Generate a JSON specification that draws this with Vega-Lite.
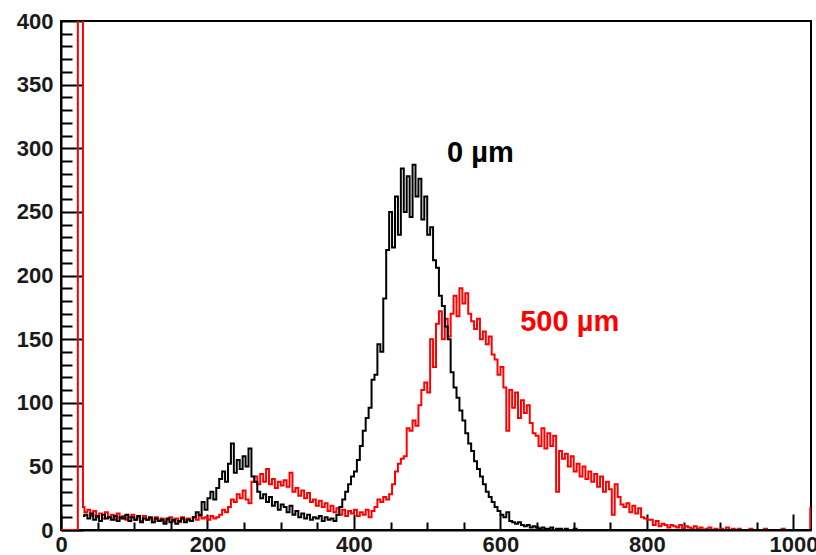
{
  "$schema": "https://vega.github.io/schema/vega-lite/v6.json",
  "width": 750,
  "height": 509,
  "autosize": {"type": "none"},
  "padding": {"left": 61, "top": 21, "right": 5, "bottom": 25},
  "background": "white",
  "config": {
    "view": {"stroke": "black", "strokeWidth": 2},
    "font": "Liberation Sans"
  },
  "datasets": {
    "counts": [
      {"x": 0, "red": 0},
      {"x": 23, "red": 1000},
      {"x": 30, "red": 18, "black": 11},
      {"x": 32, "red": 14, "black": 12}, {"x": 36, "red": 16, "black": 9}, {"x": 40, "red": 11, "black": 13}, {"x": 44, "red": 15, "black": 8},
      {"x": 48, "red": 10, "black": 11}, {"x": 52, "red": 13, "black": 7}, {"x": 56, "red": 9, "black": 12}, {"x": 60, "red": 14, "black": 9},
      {"x": 64, "red": 10, "black": 10}, {"x": 68, "red": 12, "black": 8}, {"x": 72, "red": 8, "black": 11}, {"x": 76, "red": 13, "black": 7},
      {"x": 80, "red": 9, "black": 10}, {"x": 84, "red": 11, "black": 9}, {"x": 88, "red": 8, "black": 12}, {"x": 92, "red": 10, "black": 7},
      {"x": 96, "red": 12, "black": 10}, {"x": 100, "red": 8, "black": 8}, {"x": 104, "red": 10, "black": 11}, {"x": 108, "red": 7, "black": 6},
      {"x": 112, "red": 11, "black": 9}, {"x": 116, "red": 8, "black": 8}, {"x": 120, "red": 9, "black": 10}, {"x": 124, "red": 6, "black": 6},
      {"x": 128, "red": 10, "black": 9}, {"x": 132, "red": 7, "black": 7}, {"x": 136, "red": 9, "black": 8}, {"x": 140, "red": 6, "black": 5},
      {"x": 144, "red": 8, "black": 9}, {"x": 148, "red": 10, "black": 6}, {"x": 152, "red": 7, "black": 8}, {"x": 156, "red": 9, "black": 5},
      {"x": 160, "red": 6, "black": 7}, {"x": 164, "red": 10, "black": 9}, {"x": 168, "red": 8, "black": 6}, {"x": 172, "red": 9, "black": 8},
      {"x": 176, "red": 7, "black": 7}, {"x": 180, "red": 10, "black": 10}, {"x": 184, "red": 8, "black": 14}, {"x": 188, "red": 11, "black": 12},
      {"x": 192, "red": 9, "black": 22}, {"x": 196, "red": 10, "black": 16}, {"x": 200, "red": 8, "black": 25}, {"x": 204, "red": 11, "black": 30},
      {"x": 208, "red": 9, "black": 24}, {"x": 212, "red": 10, "black": 33}, {"x": 216, "red": 12, "black": 40}, {"x": 220, "red": 16, "black": 46},
      {"x": 224, "red": 14, "black": 38}, {"x": 228, "red": 18, "black": 52}, {"x": 232, "red": 24, "black": 68}, {"x": 236, "red": 22, "black": 45},
      {"x": 240, "red": 28, "black": 55}, {"x": 244, "red": 25, "black": 48}, {"x": 248, "red": 31, "black": 58}, {"x": 252, "red": 24, "black": 50},
      {"x": 256, "red": 21, "black": 64}, {"x": 260, "red": 38, "black": 42}, {"x": 264, "red": 42, "black": 38}, {"x": 268, "red": 36, "black": 30},
      {"x": 272, "red": 44, "black": 25}, {"x": 276, "red": 38, "black": 28}, {"x": 280, "red": 48, "black": 22}, {"x": 284, "red": 36, "black": 26},
      {"x": 288, "red": 40, "black": 19}, {"x": 292, "red": 33, "black": 22}, {"x": 296, "red": 38, "black": 16}, {"x": 300, "red": 35, "black": 20},
      {"x": 304, "red": 39, "black": 18}, {"x": 308, "red": 34, "black": 14}, {"x": 312, "red": 45, "black": 19}, {"x": 316, "red": 30, "black": 12},
      {"x": 320, "red": 33, "black": 15}, {"x": 324, "red": 27, "black": 10}, {"x": 328, "red": 31, "black": 13}, {"x": 332, "red": 25, "black": 9},
      {"x": 336, "red": 29, "black": 12}, {"x": 340, "red": 22, "black": 8}, {"x": 344, "red": 24, "black": 10}, {"x": 348, "red": 19, "black": 9},
      {"x": 352, "red": 23, "black": 11}, {"x": 356, "red": 18, "black": 7}, {"x": 360, "red": 21, "black": 10}, {"x": 364, "red": 15, "black": 8},
      {"x": 368, "red": 19, "black": 9}, {"x": 372, "red": 14, "black": 7}, {"x": 376, "red": 17, "black": 12}, {"x": 380, "red": 12, "black": 18},
      {"x": 384, "red": 16, "black": 24}, {"x": 388, "red": 11, "black": 30}, {"x": 392, "red": 15, "black": 36}, {"x": 396, "red": 13, "black": 42},
      {"x": 400, "red": 16, "black": 46}, {"x": 404, "red": 11, "black": 55}, {"x": 408, "red": 14, "black": 66}, {"x": 412, "red": 12, "black": 78},
      {"x": 416, "red": 16, "black": 88}, {"x": 420, "red": 10, "black": 96}, {"x": 424, "red": 15, "black": 118}, {"x": 428, "red": 18, "black": 122},
      {"x": 432, "red": 24, "black": 146}, {"x": 436, "red": 22, "black": 140}, {"x": 440, "red": 26, "black": 182}, {"x": 444, "red": 24, "black": 220},
      {"x": 448, "red": 28, "black": 250}, {"x": 452, "red": 36, "black": 222}, {"x": 456, "red": 46, "black": 262}, {"x": 460, "red": 52, "black": 232},
      {"x": 464, "red": 56, "black": 284}, {"x": 468, "red": 58, "black": 250}, {"x": 472, "red": 80, "black": 278}, {"x": 476, "red": 78, "black": 246},
      {"x": 480, "red": 86, "black": 287}, {"x": 484, "red": 82, "black": 262}, {"x": 488, "red": 98, "black": 276}, {"x": 492, "red": 110, "black": 244},
      {"x": 496, "red": 116, "black": 262}, {"x": 500, "red": 108, "black": 232}, {"x": 504, "red": 150, "black": 238}, {"x": 508, "red": 128, "black": 212},
      {"x": 512, "red": 162, "black": 206}, {"x": 516, "red": 172, "black": 184}, {"x": 520, "red": 150, "black": 176}, {"x": 524, "red": 166, "black": 160},
      {"x": 528, "red": 152, "black": 150}, {"x": 532, "red": 170, "black": 124}, {"x": 536, "red": 184, "black": 112}, {"x": 540, "red": 168, "black": 104},
      {"x": 544, "red": 190, "black": 94}, {"x": 548, "red": 178, "black": 86}, {"x": 552, "red": 186, "black": 76}, {"x": 556, "red": 170, "black": 68},
      {"x": 560, "red": 164, "black": 62}, {"x": 564, "red": 158, "black": 54}, {"x": 568, "red": 166, "black": 48}, {"x": 572, "red": 150, "black": 42},
      {"x": 576, "red": 156, "black": 36}, {"x": 580, "red": 146, "black": 30}, {"x": 584, "red": 152, "black": 26}, {"x": 588, "red": 138, "black": 22},
      {"x": 592, "red": 134, "black": 18}, {"x": 596, "red": 122, "black": 15}, {"x": 600, "red": 128, "black": 12}, {"x": 604, "red": 112, "black": 10},
      {"x": 608, "red": 78, "black": 14}, {"x": 612, "red": 110, "black": 7}, {"x": 616, "red": 96, "black": 6}, {"x": 620, "red": 108, "black": 5},
      {"x": 624, "red": 88, "black": 6}, {"x": 628, "red": 102, "black": 4}, {"x": 632, "red": 92, "black": 3}, {"x": 636, "red": 98, "black": 4},
      {"x": 640, "red": 84, "black": 2}, {"x": 644, "red": 76, "black": 3}, {"x": 648, "red": 74, "black": 2}, {"x": 652, "red": 66, "black": 1},
      {"x": 656, "red": 80, "black": 2}, {"x": 660, "red": 64, "black": 1}, {"x": 664, "red": 76, "black": 1}, {"x": 668, "red": 66, "black": 2},
      {"x": 672, "red": 74, "black": 0}, {"x": 676, "red": 30, "black": 1}, {"x": 680, "red": 62, "black": 1}, {"x": 684, "red": 56, "black": 0},
      {"x": 688, "red": 60, "black": 1}, {"x": 692, "red": 50, "black": 0}, {"x": 696, "red": 58, "black": 0}, {"x": 700, "red": 46, "black": 1},
      {"x": 704, "red": 52, "black": 0}, {"x": 708, "red": 42, "black": 0}, {"x": 712, "red": 50, "black": 0}, {"x": 716, "red": 40, "black": 0},
      {"x": 720, "red": 46, "black": 0}, {"x": 724, "red": 38, "black": 0}, {"x": 728, "red": 44, "black": 0}, {"x": 732, "red": 34, "black": 0},
      {"x": 736, "red": 42, "black": 0}, {"x": 740, "red": 30, "black": 0}, {"x": 744, "red": 38, "black": 0}, {"x": 748, "red": 32, "black": 0},
      {"x": 752, "red": 12, "black": 0}, {"x": 756, "red": 36, "black": 0}, {"x": 760, "red": 26, "black": 0}, {"x": 764, "red": 20, "black": 0},
      {"x": 768, "red": 18, "black": 0}, {"x": 772, "red": 21, "black": 0}, {"x": 776, "red": 14, "black": 0}, {"x": 780, "red": 19, "black": 0},
      {"x": 784, "red": 13, "black": 0}, {"x": 788, "red": 17, "black": 0}, {"x": 792, "red": 10, "black": 0}, {"x": 796, "red": 9, "black": 0},
      {"x": 800, "red": 8, "black": 0}, {"x": 804, "red": 8, "black": 0}, {"x": 808, "red": 4, "black": 0}, {"x": 812, "red": 7, "black": 0},
      {"x": 816, "red": 3, "black": 0}, {"x": 820, "red": 5, "black": 0}, {"x": 824, "red": 4, "black": 0}, {"x": 828, "red": 2, "black": 0},
      {"x": 832, "red": 4, "black": 0}, {"x": 836, "red": 3, "black": 0}, {"x": 840, "red": 2, "black": 0}, {"x": 844, "red": 4, "black": 0},
      {"x": 848, "red": 1, "black": 0}, {"x": 852, "red": 3, "black": 0}, {"x": 856, "red": 2, "black": 0}, {"x": 860, "red": 1, "black": 0},
      {"x": 864, "red": 3, "black": 0}, {"x": 868, "red": 1, "black": 0}, {"x": 872, "red": 2, "black": 0}, {"x": 876, "red": 0, "black": 0},
      {"x": 880, "red": 1, "black": 0}, {"x": 884, "red": 2, "black": 0}, {"x": 888, "red": 0, "black": 0}, {"x": 892, "red": 1, "black": 0},
      {"x": 896, "red": 0, "black": 0}, {"x": 900, "red": 1, "black": 0}, {"x": 904, "red": 0, "black": 0}, {"x": 908, "red": 2, "black": 0},
      {"x": 912, "red": 0, "black": 0}, {"x": 916, "red": 1, "black": 0}, {"x": 920, "red": 0, "black": 0}, {"x": 924, "red": 1, "black": 0},
      {"x": 928, "red": 0, "black": 0}, {"x": 940, "red": 1, "black": 0}, {"x": 944, "red": 0, "black": 0}, {"x": 960, "red": 1, "black": 0},
      {"x": 964, "red": 0, "black": 0}, {"x": 984, "red": 1, "black": 0}, {"x": 988, "red": 0, "black": 0},
      {"x": 1023, "red": 17, "black": 0},
      {"x": 1024, "red": 17, "black": 0}
    ],
    "labels": [
      {"x": 527, "y": 289, "label": "0 µm", "series": "black"},
      {"x": 627, "y": 156, "label": "500 µm", "series": "red"}
    ]
  },
  "encoding": {
    "x": {
      "field": "x",
      "type": "quantitative",
      "scale": {"domain": [0, 1024], "nice": false, "zero": false},
      "axis": {
        "title": null,
        "values": [0, 50, 100, 150, 200, 250, 300, 350, 400, 450, 500, 550, 600, 650, 700, 750, 800, 850, 900, 950, 1000],
        "labelExpr": "datum.value % 200 === 0 ? datum.label : ''",
        "format": "d",
        "grid": false,
        "domainColor": "black",
        "domainWidth": 2,
        "tickColor": "black",
        "tickWidth": 2,
        "tickSize": {"condition": {"test": "datum.value % 200 === 0", "value": -16}, "value": -8},
        "labelFont": "Liberation Sans",
        "labelFontWeight": "bold",
        "labelFontSize": 22,
        "labelColor": "#1a1a1a",
        "labelPadding": 20,
        "labelFlush": false,
        "labelOverlap": false
      }
    },
    "y": {
      "type": "quantitative",
      "scale": {"domain": [0, 400], "nice": false},
      "axis": {
        "title": null,
        "values": [0, 10, 20, 30, 40, 50, 60, 70, 80, 90, 100, 110, 120, 130, 140, 150, 160, 170, 180, 190, 200, 210, 220, 230, 240, 250, 260, 270, 280, 290, 300, 310, 320, 330, 340, 350, 360, 370, 380, 390, 400],
        "labelExpr": "datum.value % 50 === 0 ? datum.label : ''",
        "format": "d",
        "grid": false,
        "domainColor": "black",
        "domainWidth": 2,
        "tickColor": "black",
        "tickWidth": 2,
        "tickSize": {"condition": {"test": "datum.value % 50 === 0", "value": -22}, "value": -11},
        "labelFont": "Liberation Sans",
        "labelFontWeight": "bold",
        "labelFontSize": 22,
        "labelColor": "#1a1a1a",
        "labelPadding": 30,
        "labelFlush": false,
        "labelOverlap": false
      }
    }
  },
  "layer": [
    {
      "data": {"name": "counts"},
      "mark": {"type": "line", "interpolate": "step-after", "color": "#ff0000", "strokeWidth": 2, "clip": true},
      "encoding": {"y": {"field": "red", "type": "quantitative"}}
    },
    {
      "data": {"name": "counts"},
      "mark": {"type": "line", "interpolate": "step-after", "color": "#000000", "strokeWidth": 2, "clip": true},
      "encoding": {"y": {"field": "black", "type": "quantitative"}}
    },
    {
      "data": {"name": "labels"},
      "mark": {"type": "text", "align": "left", "baseline": "alphabetic", "font": "Liberation Sans", "fontWeight": "bold", "fontSize": 29},
      "encoding": {
        "y": {"field": "y", "type": "quantitative"},
        "text": {"field": "label"},
        "color": {"field": "series", "type": "nominal", "scale": {"domain": ["black", "red"], "range": ["#000000", "#ff0000"]}, "legend": null}
      }
    }
  ]
}
